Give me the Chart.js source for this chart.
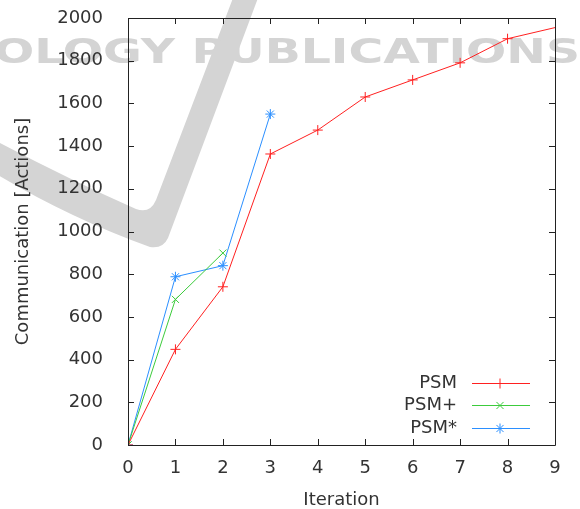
<!DOCTYPE html>
<html>
<head>
<meta charset="utf-8">
<script src="https://cdn.jsdelivr.net/npm/chart.js@4"></script>
<style>
  body { margin: 0; background: #fff; }
</style>
</head>
<body>
<canvas id="chart" width="580" height="509"></canvas>
<script>
// values
const iterations = [0, 1, 2, 3, 4, 5, 6, 7, 8, 9];
const psm = [0, 448, 741, 1363, 1475, 1630, 1710, 1790, 1903, 1955];
const psmPlus = [0, 682, 899];
const psmStar = [0, 788, 840, 1550];
const xTicks = [0, 1, 2, 3, 4, 5, 6, 7, 8, 9];
const yTicks = [0, 200, 400, 600, 800, 1000, 1200, 1400, 1600, 1800, 2000];

const FONT = "'DejaVu Sans', sans-serif";
const TEXT = "#333";
const GREY = "#d4d4d4";
const MARK = 5;

function toPoints(values) {
  return values.map((v, i) => ({ x: iterations[i], y: v }));
}

// grey watermark behind everything
const watermark = {
  id: "watermark",
  beforeDraw(chart) {
    const ctx = chart.ctx;
    ctx.save();
    ctx.fillStyle = "#fff";
    ctx.fillRect(0, 0, chart.width, chart.height);

    // the swoosh
    ctx.fillStyle = GREY;
    ctx.beginPath();
    ctx.moveTo(233, -2);
    ctx.lineTo(258, -2);
    ctx.lineTo(168, 238);
    ctx.quadraticCurveTo(163, 249, 150, 247);
    ctx.quadraticCurveTo(70, 218, -2, 175);
    ctx.lineTo(-2, 142);
    ctx.quadraticCurveTo(70, 180, 136, 209);
    ctx.quadraticCurveTo(150, 214, 156, 200);
    ctx.closePath();
    ctx.fill();

    const txt = "OLOGY PUBLICATIONS";
    ctx.font = "bold 34px " + FONT;
    const w = ctx.measureText(txt).width;
    const x0 = -6, x1 = 580;
    ctx.translate(x0, 63);
    ctx.scale((x1 - x0) / w, 1);
    ctx.textBaseline = "alphabetic";
    ctx.fillText(txt, 0, 0);
    ctx.restore();
  }
};

// gnuplot-like box with inward ticks and the key in the lower right
const frame = {
  id: "frame",
  afterDraw(chart) {
    const ctx = chart.ctx;
    const a = chart.chartArea;
    const xs = chart.scales.x, ys = chart.scales.y;
    const len = 6;
    ctx.save();
    ctx.strokeStyle = "#222";
    ctx.lineWidth = 1;
    ctx.beginPath();
    ctx.rect(Math.round(a.left) + 0.5, Math.round(a.top) + 0.5,
             Math.round(a.right - a.left), Math.round(a.bottom - a.top));
    xTicks.forEach(t => {
      const px = Math.round(xs.getPixelForValue(t)) + 0.5;
      ctx.moveTo(px, a.bottom); ctx.lineTo(px, a.bottom - len);
      ctx.moveTo(px, a.top); ctx.lineTo(px, a.top + len);
    });
    yTicks.forEach(t => {
      const py = Math.round(ys.getPixelForValue(t)) + 0.5;
      ctx.moveTo(a.left, py); ctx.lineTo(a.left + len, py);
      ctx.moveTo(a.right, py); ctx.lineTo(a.right - len, py);
    });
    ctx.stroke();

    // key
    ctx.font = "18px " + FONT;
    ctx.textAlign = "right";
    ctx.textBaseline = "middle";
    const rowY = [383, 405, 428];
    chart.data.datasets.forEach((ds, i) => {
      const y = rowY[i];
      ctx.fillStyle = TEXT;
      ctx.fillText(ds.label, 457, y);
      ctx.strokeStyle = ds.borderColor;
      ctx.lineWidth = 1;
      ctx.beginPath();
      ctx.moveTo(472, y + 0.5);
      ctx.lineTo(530, y + 0.5);
      ctx.stroke();
      Chart.helpers.drawPoint(ctx, {
        pointStyle: ds.pointStyle, radius: MARK,
        borderWidth: 1, rotation: 0
      }, 500, y + 0.5);
    });
    ctx.restore();
  }
};

// gnuplot leaves out markers that sit on the right border
const pointSize = c => (c.raw && c.raw.x >= 9 ? 0 : MARK);

const baseDs = {
  borderWidth: 1,
  pointRadius: pointSize,
  pointBorderWidth: 1,
  pointHoverRadius: pointSize,
  tension: 0,
  fill: false
};

const tickFont = { family: FONT, size: 18 };

new Chart(document.getElementById("chart"), {
  type: "line",
  data: {
    datasets: [
      Object.assign({}, baseDs, { label: "PSM", data: toPoints(psm),
        borderColor: "#ff2020", pointBorderColor: "#ff2020", pointStyle: "cross" }),
      Object.assign({}, baseDs, { label: "PSM+", data: toPoints(psmPlus),
        borderColor: "#3ccb3c", pointBorderColor: "#3ccb3c", pointStyle: "crossRot" }),
      Object.assign({}, baseDs, { label: "PSM*", data: toPoints(psmStar),
        borderColor: "#2b8fff", pointBorderColor: "#2b8fff", pointStyle: "star" })
    ]
  },
  options: {
    responsive: false,
    devicePixelRatio: 1,
    animation: false,
    layout: { padding: { top: 18, right: 25, left: 0, bottom: 0 } },
    plugins: {
      legend: { display: false },
      tooltip: { enabled: false }
    },
    scales: {
      x: {
        type: "linear",
        min: 0, max: 9,
        afterFit(scale) {
          scale.height = 64;
          scale.paddingLeft = 0;
          scale.paddingRight = 0;
        },
        afterBuildTicks(scale) { scale.ticks = xTicks.map(v => ({ value: v })); },
        grid: { display: false },
        border: { display: false },
        ticks: { color: TEXT, font: tickFont, padding: 5, maxRotation: 0,
          callback: v => String(v) },
        title: { display: true, text: "Iteration", color: TEXT,
          font: { family: FONT, size: 18, lineHeight: 1 }, padding: { top: 0, bottom: 0 } }
      },
      y: {
        min: 0, max: 2000,
        afterFit(scale) {
          scale.width = 128;
          scale.paddingTop = 0;
          scale.paddingBottom = 0;
        },
        afterBuildTicks(scale) { scale.ticks = yTicks.map(v => ({ value: v })); },
        grid: { display: false },
        border: { display: false },
        ticks: { color: TEXT, font: tickFont, padding: 17,
          callback: v => String(v) },
        title: { display: true, text: "Communication [Actions]", color: TEXT,
          font: { family: FONT, size: 18, lineHeight: 1 }, padding: { top: 14, bottom: 0 } }
      }
    }
  },
  plugins: [watermark, frame]
});
</script>
</body>
</html>
